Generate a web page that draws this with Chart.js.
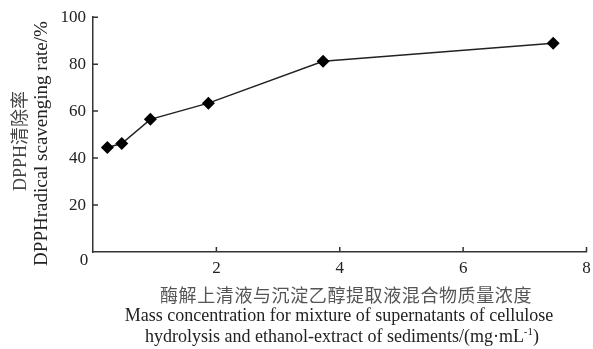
<!DOCTYPE html>
<html>
<head>
<meta charset="utf-8">
<script src="https://cdn.jsdelivr.net/npm/chart.js@4.4.1/dist/chart.umd.min.js"></script>
<style>
  html, body { margin: 0; padding: 0; background: #fff; overflow: hidden; }
</style>
</head>
<body>
<canvas id="chart" width="593" height="349"></canvas>
<script>
const concentration = [0.233, 0.466, 0.93, 1.87, 3.73, 7.46];
const scavengingRate = [44.5, 46.2, 56.5, 63.4, 81.2, 88.9];
const xTicks = [0, 2, 4, 6, 8];
const yTicks = [0, 20, 40, 60, 80, 100];

const yTitleCn = "DPPH清除率";
const yTitleEn = "DPPHradical scavenging rate/%";
const xTitleCn = "酶解上清液与沉淀乙醇提取液混合物质量浓度";
const xTitleEn1 = "Mass concentration for mixture of supernatants of cellulose";
const xTitleEn2 = "hydrolysis and ethanol-extract of sediments/(mg·mL";

const serif = '"Liberation Serif", "Noto Sans CJK SC", serif';
const axisColor = "#333";
const textColor = "#222";
const xMax = xTicks[xTicks.length - 1];

// inward ticks, corner "0", last x label (kept out of auto padding) and titles
const axisDecor = {
  id: "axisDecor",
  afterDraw(chart) {
    const { ctx, scales: { x, y } } = chart;
    ctx.save();
    ctx.strokeStyle = axisColor;
    ctx.lineWidth = 1.5;
    ctx.beginPath();
    xTicks.forEach((v) => {
      if (v === 0) return;
      const px = x.getPixelForValue(v);
      ctx.moveTo(px, y.bottom);
      ctx.lineTo(px, y.bottom - 5);
    });
    yTicks.forEach((v) => {
      if (v === 0) return;
      const py = y.getPixelForValue(v);
      ctx.moveTo(x.left, py);
      ctx.lineTo(x.left + 5, py);
    });
    ctx.stroke();

    ctx.fillStyle = textColor;
    ctx.textAlign = "center";
    ctx.textBaseline = "middle";
    ctx.font = "17px " + serif;
    ctx.fillText("0", x.left - 9, y.bottom + 9);
    ctx.fillText(String(xMax), x.getPixelForValue(xMax), x.top + 6 + 10.2);

    // x title
    ctx.fillStyle = "#555";
    ctx.font = '18px "Noto Sans CJK SC", sans-serif';
    ctx.letterSpacing = "0.6px";
    ctx.fillText(xTitleCn, 346, 295);
    ctx.letterSpacing = "0px";
    ctx.fillStyle = textColor;
    ctx.font = "18px " + serif;
    ctx.fillText(xTitleEn1, 339, 316);
    ctx.textAlign = "left";
    const w2 = ctx.measureText(xTitleEn2).width;
    ctx.font = "11px " + serif;
    const wSup = ctx.measureText("-1").width;
    ctx.font = "18px " + serif;
    const wEnd = ctx.measureText(")").width;
    const start = 342 - (w2 + wSup + wEnd) / 2;
    ctx.fillText(xTitleEn2, start, 337);
    ctx.font = "11px " + serif;
    ctx.fillText("-1", start + w2, 332);
    ctx.font = "18px " + serif;
    ctx.fillText(")", start + w2 + wSup, 337);

    // y title
    ctx.textAlign = "center";
    ctx.rotate(-Math.PI / 2);
    ctx.fillStyle = "#444";
    ctx.font = "18px " + serif;
    ctx.fillText(yTitleCn, -141, 21);
    ctx.fillStyle = textColor;
    ctx.font = "19px " + serif;
    ctx.fillText(yTitleEn, -143.5, 42);
    ctx.restore();
  },
};

new Chart(document.getElementById("chart"), {
  type: "scatter",
  data: {
    datasets: [
      {
        data: concentration.map((c, i) => ({ x: c, y: scavengingRate[i] })),
        showLine: true,
        borderColor: "#222",
        borderWidth: 1.5,
        backgroundColor: "#000",
        pointStyle: "rectRot",
        pointRadius: 6.5,
        pointHoverRadius: 6.5,
        pointBorderWidth: 0,
      },
    ],
  },
  options: {
    responsive: false,
    animation: false,
    events: [],
    layout: { padding: { top: 17, right: 4, left: 0, bottom: 0 } },
    plugins: { legend: { display: false }, tooltip: { enabled: false } },
    scales: {
      x: {
        type: "linear",
        min: 0,
        max: xMax,
        afterBuildTicks: (s) => { s.ticks = xTicks.map((v) => ({ value: v })); },
        afterFit: (s) => { s.height = 97; },
        grid: { display: false, drawTicks: false },
        border: { display: true, color: axisColor, width: 1.5 },
        ticks: {
          padding: 6,
          color: textColor,
          font: { family: serif, size: 17 },
          callback: (v) => (v === 0 || v === xMax ? "" : v),
        },
      },
      y: {
        min: 0,
        max: 100,
        afterBuildTicks: (s) => { s.ticks = yTicks.map((v) => ({ value: v })); },
        afterFit: (s) => { s.width = 93; },
        grid: { display: false, drawTicks: false },
        border: { display: true, color: axisColor, width: 1.5 },
        ticks: {
          padding: 7,
          color: textColor,
          font: { family: serif, size: 17 },
          callback: (v) => (v === 0 ? "" : v),
        },
      },
    },
  },
  plugins: [axisDecor],
});
</script>
</body>
</html>
